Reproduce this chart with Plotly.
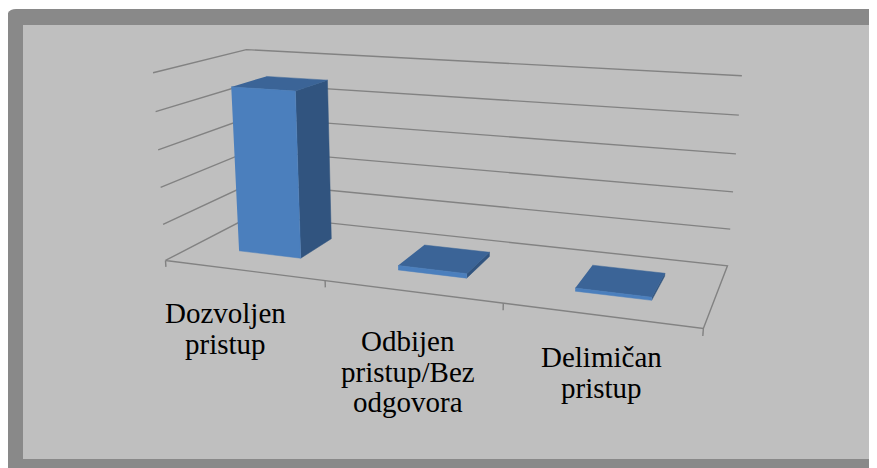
import numpy as np
import plotly.graph_objects as go

# ---------------- data ----------------
categories = ["Dozvoljen pristup", "Odbijen pristup/Bez odgovora", "Delimičan pristup"]
category_lines = [["Dozvoljen", "pristup"], ["Odbijen", "pristup/Bez", "odgovora"], ["Delimičan", "pristup"]]
values = [45, 1.2, 0.8]
grid_step = 10
grid_levels = 5

# ---------------- 3D view (Excel-like perspective) ----------------
W, H = 877, 468
PAGE_OFF = 8  # default body margin of the html page
# box corners (category, depth, level) -> page pixel, used to fit a camera
calib = [
    ((0, 0, 0), (166, 261)), ((3, 0, 0), (704, 328)), ((3, 1, 0), (727, 266)),
    ((0, 1, 0), (253, 215)), ((0, 0, 5), (153, 73)), ((0, 1, 5), (247, 49)),
    ((3, 1, 5), (742, 76)), ((0, 0, 1), (163.7, 224)), ((0, 0, 2), (160.7, 187)),
    ((0, 0, 3), (157.7, 150)), ((0, 0, 4), (155, 112)), ((3, 1, 1), (731, 229)),
    ((3, 1, 2), (733, 192)), ((3, 1, 3), (735.7, 154)), ((3, 1, 4), (738.5, 115)),
    ((1, 0, 0), (325, 280.5)), ((2, 0, 0), (502.7, 303)),
]


def fit_camera(c):
    p3 = np.array([a for a, _ in c], float)
    p2 = np.array([b for _, b in c], float)
    m = p2.mean(0)
    s = np.sqrt(2) / np.mean(np.linalg.norm(p2 - m, axis=1))
    T = np.array([[s, 0, -s * m[0]], [0, s, -s * m[1]], [0, 0, 1]])
    q = (p2 - m) * s
    rows = []
    for (X, Y, Z), (u, v) in zip(p3, q):
        P = [X, Y, Z, 1]
        rows.append(P + [0, 0, 0, 0] + [-u * e for e in P])
        rows.append([0, 0, 0, 0] + P + [-v * e for e in P])
    _, _, Vt = np.linalg.svd(np.array(rows))
    Pn = Vt[-1].reshape(3, 4)
    return np.linalg.inv(T) @ Pn


CAM = fit_camera(calib)


def proj(X, Y, Z):
    h = CAM @ np.array([X, Y, Z, 1.0])
    return h[0] / h[2], h[1] / h[2]


def poly(points):
    xs, ys = [], []
    for p in points:
        if p is None:
            xs.append(None); ys.append(None)
        else:
            x, y = proj(*p)
            xs.append(x); ys.append(y)
    return xs, ys


ncat = len(categories)
gap = 0.3          # gap on each side of a bar within its category
d0, d1 = 0.3, 0.7  # bar depth extent

fig = go.Figure()

grid_col = "#828282"
# walls gridlines
pts = []
for k in range(1, grid_levels + 1):
    pts += [(0, 0, k), (0, 1, k), (ncat, 1, k), None]
# floor outline
pts += [(0, 0, 0), (ncat, 0, 0), (ncat, 1, 0), (0, 1, 0), (0, 0, 0), None]
# ticks
for i in range(ncat + 1):
    pts += [(i, 0, 0), (i, 0, -0.18), None]
gx, gy = poly(pts)
fig.add_trace(go.Scatter(x=gx, y=gy, mode="lines", line=dict(color=grid_col, width=1.4),
                         hoverinfo="skip", showlegend=False))

front, top, side = [], [], []
for i, v in enumerate(values):
    h = v / grid_step
    x0, x1 = i + gap, i + 1 - gap
    front += [(x0, d0, 0), (x1, d0, 0), (x1, d0, h), (x0, d0, h), None]
    top += [(x0, d0, h), (x1, d0, h), (x1, d1, h), (x0, d1, h), None]
    side += [(x1, d0, 0), (x1, d1, 0), (x1, d1, h), (x1, d0, h), None]

for face, col in ((side, "#31547f"), (top, "#3b6497"), (front, "#4b7fbd")):
    fx, fy = poly(face)
    fig.add_trace(go.Scatter(x=fx, y=fy, mode="lines", fill="toself", fillcolor=col,
                             line=dict(color=col, width=0.5), hoverinfo="skip",
                             showlegend=False))

# category labels
label_pos = [(225, 313), (408, 341), (601, 357)]
line_gap = 30.5
ann = []
for (cx, cy), lines in zip(label_pos, category_lines):
    for j, t in enumerate(lines):
        ann.append(dict(x=cx, y=cy + j * line_gap, text=t, showarrow=False,
                        xanchor="center", yanchor="middle", xref="x", yref="y",
                        font=dict(family="Liberation Serif", size=29, color="#000000")))

r = 9
outer = (f"M 7 {9 + r} Q 7 9 {7 + r} 9 L 890 9 L 890 480 L 7 480 Z")
shapes = [
    dict(type="path", path=outer, xref="x", yref="y", fillcolor="#898989",
         line=dict(width=0), layer="below"),
    dict(type="rect", x0=23, y0=25, x1=872, y1=459, xref="x", yref="y",
         fillcolor="#bfbfbf", line=dict(width=0), layer="below"),
]

fig.update_layout(
    width=W - PAGE_OFF, height=H - PAGE_OFF, margin=dict(l=0, r=0, t=0, b=0),
    paper_bgcolor="#ffffff", plot_bgcolor="rgba(0,0,0,0)",
    xaxis=dict(range=[PAGE_OFF, W], visible=False, fixedrange=True),
    yaxis=dict(range=[H, PAGE_OFF], visible=False, fixedrange=True),
    shapes=shapes, annotations=ann, showlegend=False,
)

fig.write_html("out.html", config={"displayModeBar": False})
